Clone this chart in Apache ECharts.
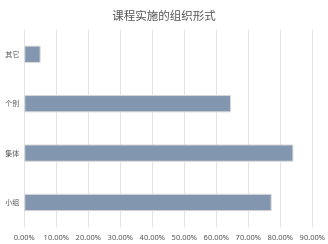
<!DOCTYPE html>
<html><head><meta charset="utf-8">
<script src="https://cdn.jsdelivr.net/npm/echarts@6/dist/echarts.min.js"></script>
<style>html,body{margin:0;padding:0;background:#fff}#c{width:328px;height:244px}</style>
</head><body><div id="c"></div>
<script>
const title = '课程实施的组织形式';
const categories = ['小组', '集体', '个别', '其它'];
const values = [77.3, 84.1, 64.6, 5.1];
const chart = echarts.init(document.getElementById('c'));
chart.setOption({
  animation: false,
  title: { text: title, left: 'center', top: 5, textStyle: { fontSize: 11.5, fontWeight: 'normal', color: '#555', fontFamily: 'Noto Sans CJK SC' } },
  grid: { left: 24.3, right: 15.3, top: 29.6, bottom: 16.8 },
  xAxis: {
    type: 'value', min: 0, max: 90, interval: 10,
    axisLine: { show: false }, axisTick: { show: false },
    splitLine: { lineStyle: { color: '#e3e3e3' } },
    axisLabel: { formatter: v => v.toFixed(2) + '%', fontSize: 7.5, color: '#555', margin: 7, fontFamily: 'Noto Sans' }
  },
  yAxis: {
    type: 'category', data: categories,
    axisLine: { show: false }, axisTick: { show: false },
    axisLabel: { fontSize: 7, color: '#555', margin: 5, fontFamily: 'Noto Sans CJK SC' }
  },
  series: [{
    type: 'bar', data: values, barWidth: '35%',
    itemStyle: { color: '#8296b0', borderColor: '#d8d8d8', borderWidth: 1 }
  }]
});
</script></body></html>
